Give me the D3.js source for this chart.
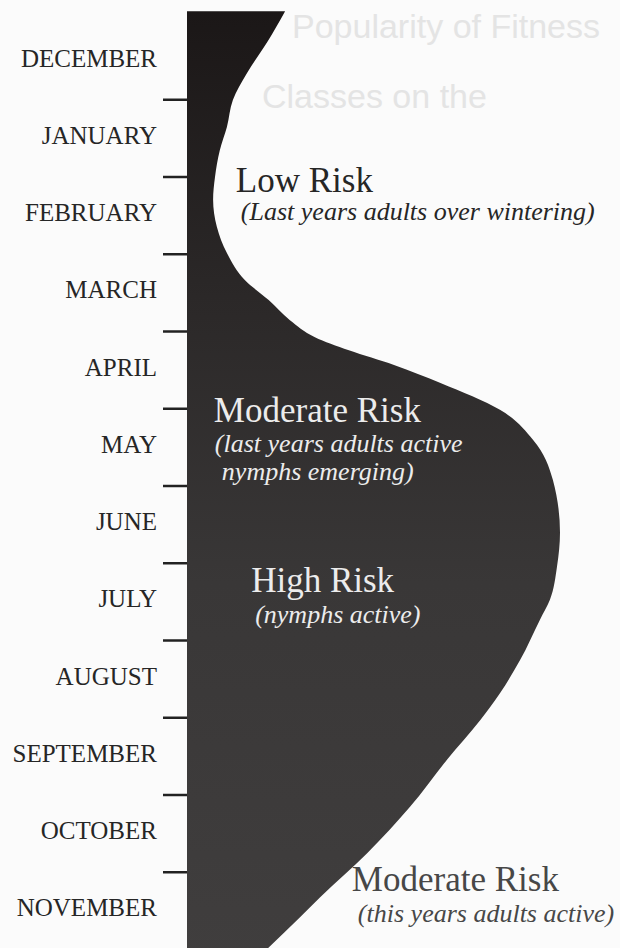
<!DOCTYPE html>
<html>
<head>
<meta charset="utf-8">
<script src="https://cdn.jsdelivr.net/npm/d3@7"></script>
<style>
  body { margin: 0; background: #fbfbfb; }
  svg { display: block; }
</style>
</head>
<body>
<div id="chart"></div>
<script>
// month bands, top to bottom
var months = ["DECEMBER", "JANUARY", "FEBRUARY", "MARCH", "APRIL", "MAY",
              "JUNE", "JULY", "AUGUST", "SEPTEMBER", "OCTOBER", "NOVEMBER"];

// outline of the risk shape: position in the year (months from start of Dec) and risk level (0-100)
var riskMonth = [-0.14, 0.27, 0.66, 1.01, 1.36, 1.66, 2.01, 2.30, 2.65, 2.99, 3.34, 3.60,
                 3.86, 4.08, 4.25, 4.44, 4.67, 5.02, 5.41, 5.93, 6.61, 7.05,
                 7.48, 7.74, 8.26, 8.69, 9.04, 9.55, 10.16, 10.76, 11.33, 11.59, 11.99, 12.2];
var riskLevel = [26.3, 21.4, 16.1, 12.3, 10.7, 8.8, 7.5, 7.0, 8.0, 10.7, 15.5, 21.9,
                 27.6, 34.3, 43.4, 55.5, 67.8, 83.9, 92.8, 98.1, 100, 99.2,
                 97.3, 94.6, 89.3, 83.9, 78.6, 69.7, 59.8, 48.3, 35.7, 30.3, 21.7, 17.0];

// annotation texts
var riskTitles = ["Low Risk", "Moderate Risk", "High Risk", "Moderate Risk"];
var riskNotes = [
    ["(Last years adults over wintering)"],
    ["(last years adults active", "nymphs emerging)"],
    ["(nymphs active)"],
    ["(this years adults active)"]
];

// where each annotation sits (data coords for the title, pixel offsets for the note lines)
var noteLayout = [
    { month: 2.20, level: 13.1, dx: [5], dy: [28], color: "#262626" },
    { month: 5.18, level: 7.2, dx: [1, 8], dy: [30, 58], color: "#ececec" },
    { month: 7.38, level: 17.2, dx: [4], dy: [31], color: "#ececec" },
    { month: 11.25, level: 44.2, dx: [6], dy: [31], color: "#474747" }
];

var width = 620;
var height = 948;

var x = d3.scaleLinear().domain([0, 100]).range([187, 560]);
var y = d3.scaleLinear().domain([0, months.length]).range([22, 949]);

var svg = d3.select("#chart")
    .append("svg")
    .attr("width", width)
    .attr("height", height);

// faint print showing through from the other side of the page
var ghost = svg.append("g")
    .style("font-family", "'Liberation Sans', Arial, sans-serif")
    .style("font-size", "34px")
    .style("fill", "#e4e4e4");
ghost.append("text")
    .attr("x", 292).attr("y", 38)
    .text("Popularity of Fitness");
ghost.append("text")
    .attr("x", 262).attr("y", 108)
    .text("Classes on the");

// darker at the top like the printed shape
var grad = svg.append("defs").append("linearGradient")
    .attr("id", "shade")
    .attr("x1", 0).attr("y1", 0).attr("x2", 0).attr("y2", 1);
grad.append("stop").attr("offset", "0%").attr("stop-color", "#1b1717");
grad.append("stop").attr("offset", "30%").attr("stop-color", "#2b2828");
grad.append("stop").attr("offset", "60%").attr("stop-color", "#393737");
grad.append("stop").attr("offset", "100%").attr("stop-color", "#403e3e");

var area = d3.area()
    .y(function (d, i) { return y(riskMonth[i]); })
    .x0(x(0))
    .x1(function (d, i) { return x(riskLevel[i]); })
    .curve(d3.curveMonotoneY);

svg.append("path")
    .datum(riskMonth)
    .attr("d", area)
    .attr("fill", "url(#shade)");

// tick marks at the month boundaries
var axis = d3.axisLeft(y)
    .tickValues(d3.range(1, months.length))
    .tickSize(24)
    .tickFormat("");

var axisG = svg.append("g")
    .attr("transform", "translate(" + x(0) + ",0)")
    .call(axis);
axisG.select(".domain").remove();
axisG.selectAll(".tick line")
    .attr("stroke", "#222")
    .attr("stroke-width", 2.5);

// month names, centred in each band
svg.selectAll(".month")
    .data(months)
    .enter()
    .append("text")
    .attr("class", "month")
    .attr("x", 157)
    .attr("y", function (d, i) { return y(i + 0.5) + 6; })
    .attr("text-anchor", "end")
    .style("font-family", "'Liberation Serif', 'Times New Roman', serif")
    .style("font-size", "25px")
    .style("fill", "#262626")
    .text(function (d) { return d; });

// risk annotations
var notes = svg.selectAll(".note")
    .data(riskTitles)
    .enter()
    .append("g")
    .attr("class", "note")
    .attr("transform", function (d, i) {
        return "translate(" + x(noteLayout[i].level) + "," + y(noteLayout[i].month) + ")";
    })
    .style("font-family", "'Liberation Serif', 'Times New Roman', serif")
    .style("fill", function (d, i) { return noteLayout[i].color; });

notes.append("text")
    .style("font-size", "35px")
    .text(function (d) { return d; });

notes.each(function (d, i) {
    d3.select(this).selectAll(".line")
        .data(riskNotes[i])
        .enter()
        .append("text")
        .attr("class", "line")
        .attr("x", function (l, j) { return noteLayout[i].dx[j]; })
        .attr("y", function (l, j) { return noteLayout[i].dy[j]; })
        .style("font-size", "26px")
        .style("font-style", "italic")
        .text(function (l) { return l; });
});
</script>
</body>
</html>
